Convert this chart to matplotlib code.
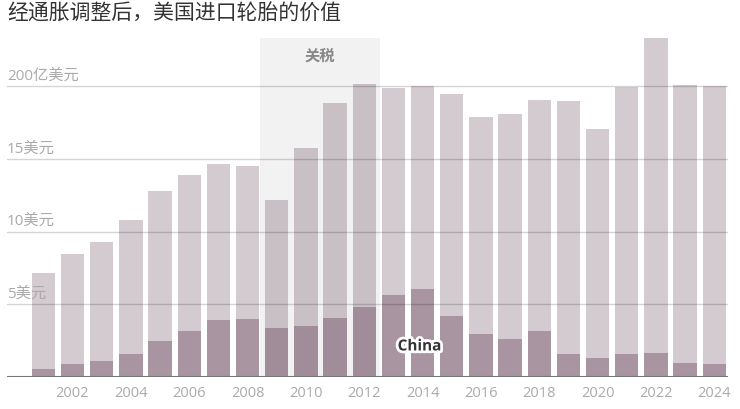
import matplotlib
matplotlib.use("Agg")
import matplotlib.pyplot as plt
import matplotlib.patheffects as pe

plt.rcParams['font.family'] = ['Open Sans', 'Noto Sans CJK SC', 'DejaVu Sans']

years = list(range(2001, 2025))
total = [7.13, 8.46, 9.26, 10.82, 12.81, 13.89, 14.65, 14.53, 12.15, 15.77, 18.84, 20.15,
         19.9, 20.0, 19.46, 17.9, 18.09, 19.05, 18.96, 17.03, 19.94, 23.29, 20.08, 19.99]
china = [0.55, 0.87, 1.12, 1.6, 2.5, 3.19, 3.94, 3.99, 3.39, 3.53, 4.06, 4.84,
         5.64, 6.05, 4.2, 2.96, 2.64, 3.19, 1.56, 1.31, 1.58, 1.63, 0.98, 0.89]
ytick_vals = [5, 10, 15, 20]
ytick_labels = ['5美元', '10美元', '15美元', '200亿美元']
xtick_vals = list(range(2002, 2025, 2))
tariff_span = (2008.43, 2012.54)
title = '经通胀调整后，美国进口轮胎的价值'

W, H = 740, 410
fig = plt.figure(figsize=(W / 100, H / 100), dpi=100)
left, right, bottom, top = 7, 728, 378, 39
ax = fig.add_axes([left / W, 1 - bottom / H, (right - left) / W, (bottom - top) / H])

ax.bar(years, total, width=0.8, color='#d4cbd1', zorder=1)
ax.bar(years, china, width=0.8, color='#a995a2', zorder=2)

ax.axvspan(*tariff_span, color='black', alpha=0.05, lw=0, zorder=2.5)
ax.text(sum(tariff_span) / 2, 22.2, '关税', ha='center', va='center', fontsize=11,
        fontweight='bold', color='#888888', zorder=5,
        family=['Noto Sans CJK SC', 'DejaVu Sans'])

for v, lab in zip(ytick_vals, ytick_labels):
    ax.axhline(v, color='black', alpha=0.17, lw=1, zorder=3)
    ax.annotate(lab, xy=(0, v), xycoords=('axes fraction', 'data'), xytext=(0, 2.5),
                textcoords='offset points', ha='left', va='bottom', fontsize=11,
                color='#aaaaaa', zorder=5)

ax.axhline(0, color='#777777', lw=1.5, zorder=4)

ax.text(2013.9, 2.1, 'China', ha='center', va='center', fontsize=11, fontweight='bold',
        color='#333333', zorder=6,
        path_effects=[pe.withStroke(linewidth=4, foreground='white')])

ax.set_xlim(1999.755, 2024.47)
ax.set_ylim(0, (bottom - top) / 14.54)
ax.set_xticks(xtick_vals)
ax.set_xticklabels([str(x) for x in xtick_vals], fontsize=10.5, color='#aaaaaa')
ax.tick_params(axis='x', length=0, pad=6)
ax.set_yticks([])
for s in ax.spines.values():
    s.set_visible(False)

fig.text(7 / W, 1 - 14 / H, title, ha='left', va='center', fontsize=15, color='#333333',
         fontweight='light', family=['Noto Sans CJK SC', 'DejaVu Sans'])

fig.savefig('out.png', dpi=100)
